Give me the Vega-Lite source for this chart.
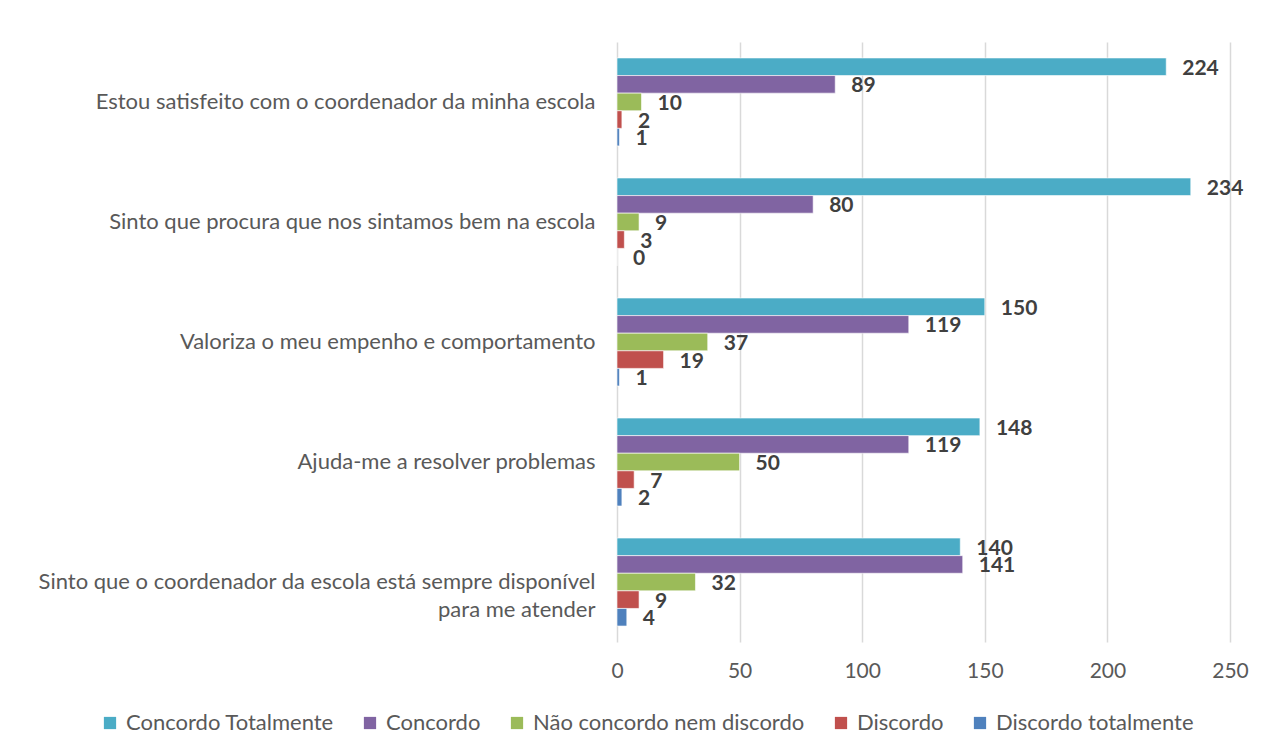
{
  "$schema": "https://vega.github.io/schema/vega-lite/v6.json",
  "autosize": {"type": "none"},
  "width": 613,
  "height": 600,
  "padding": {"left": 617, "top": 42, "right": 36, "bottom": 112},
  "background": "white",
  "config": {
    "font": "Lato",
    "view": {"stroke": null},
    "axis": {"labelFont": "Lato", "labelColor": "#595959", "labelFontSize": 22, "ticks": false, "domain": false}
  },
  "data": {"values": [
    {"cat": "Estou satisfeito com o coordenador da minha escola", "serie": "Concordo Totalmente", "v": 224},
    {"cat": "Estou satisfeito com o coordenador da minha escola", "serie": "Concordo", "v": 89},
    {"cat": "Estou satisfeito com o coordenador da minha escola", "serie": "Não concordo nem discordo", "v": 10},
    {"cat": "Estou satisfeito com o coordenador da minha escola", "serie": "Discordo", "v": 2},
    {"cat": "Estou satisfeito com o coordenador da minha escola", "serie": "Discordo totalmente", "v": 1},
    {"cat": "Sinto que procura que nos sintamos bem na escola", "serie": "Concordo Totalmente", "v": 234},
    {"cat": "Sinto que procura que nos sintamos bem na escola", "serie": "Concordo", "v": 80},
    {"cat": "Sinto que procura que nos sintamos bem na escola", "serie": "Não concordo nem discordo", "v": 9},
    {"cat": "Sinto que procura que nos sintamos bem na escola", "serie": "Discordo", "v": 3},
    {"cat": "Sinto que procura que nos sintamos bem na escola", "serie": "Discordo totalmente", "v": 0},
    {"cat": "Valoriza o meu empenho e comportamento", "serie": "Concordo Totalmente", "v": 150},
    {"cat": "Valoriza o meu empenho e comportamento", "serie": "Concordo", "v": 119},
    {"cat": "Valoriza o meu empenho e comportamento", "serie": "Não concordo nem discordo", "v": 37},
    {"cat": "Valoriza o meu empenho e comportamento", "serie": "Discordo", "v": 19},
    {"cat": "Valoriza o meu empenho e comportamento", "serie": "Discordo totalmente", "v": 1},
    {"cat": "Ajuda-me a resolver problemas", "serie": "Concordo Totalmente", "v": 148},
    {"cat": "Ajuda-me a resolver problemas", "serie": "Concordo", "v": 119},
    {"cat": "Ajuda-me a resolver problemas", "serie": "Não concordo nem discordo", "v": 50},
    {"cat": "Ajuda-me a resolver problemas", "serie": "Discordo", "v": 7},
    {"cat": "Ajuda-me a resolver problemas", "serie": "Discordo totalmente", "v": 2},
    {"cat": "Sinto que o coordenador da escola está sempre disponível|para me atender", "serie": "Concordo Totalmente", "v": 140},
    {"cat": "Sinto que o coordenador da escola está sempre disponível|para me atender", "serie": "Concordo", "v": 141},
    {"cat": "Sinto que o coordenador da escola está sempre disponível|para me atender", "serie": "Não concordo nem discordo", "v": 32},
    {"cat": "Sinto que o coordenador da escola está sempre disponível|para me atender", "serie": "Discordo", "v": 9},
    {"cat": "Sinto que o coordenador da escola está sempre disponível|para me atender", "serie": "Discordo totalmente", "v": 4}
  ]},
  "encoding": {
    "y": {
      "field": "cat", "type": "nominal", "title": null,
      "sort": ["Estou satisfeito com o coordenador da minha escola", "Sinto que procura que nos sintamos bem na escola", "Valoriza o meu empenho e comportamento", "Ajuda-me a resolver problemas", "Sinto que o coordenador da escola está sempre disponível|para me atender"],
      "scale": {"paddingInner": 0.267, "paddingOuter": 0.133},
      "axis": {"labelExpr": "split(datum.label, '|')", "labelPadding": 22, "labelLimit": 700, "grid": false, "labelLineHeight": 28}
    },
    "yOffset": {
      "field": "serie", "type": "nominal",
      "sort": ["Concordo Totalmente", "Concordo", "Não concordo nem discordo", "Discordo", "Discordo totalmente"],
      "scale": {"paddingInner": 0, "paddingOuter": 0}
    },
    "x": {
      "field": "v", "type": "quantitative", "title": null,
      "scale": {"domain": [0, 250], "nice": false},
      "axis": {"values": [0, 50, 100, 150, 200, 250], "grid": true, "gridColor": "#D9D9D9", "gridWidth": 1.5, "labelPadding": 18, "labelFontSize": 21, "labelFlush": false}
    }
  },
  "layer": [
    {
      "mark": {"type": "bar", "stroke": "white", "strokeWidth": 1, "strokeOpacity": 0.6},
      "encoding": {
        "color": {
          "field": "serie", "type": "nominal", "title": null,
          "sort": ["Concordo Totalmente", "Concordo", "Não concordo nem discordo", "Discordo", "Discordo totalmente"],
          "scale": {"domain": ["Concordo Totalmente", "Concordo", "Não concordo nem discordo", "Discordo", "Discordo totalmente"], "range": ["#4BACC6", "#8064A2", "#9BBB59", "#C0504D", "#4F81BD"]},
          "legend": {"orient": "none", "direction": "horizontal", "legendX": -518, "legendY": 670, "symbolType": "square", "symbolSize": 150, "symbolStrokeWidth": 0, "labelFont": "Lato", "labelFontSize": 22, "labelColor": "#595959", "columnPadding": 25, "labelOffset": 5, "labelLimit": 400}
        }
      }
    },
    {
      "mark": {"type": "text", "align": "left", "baseline": "middle", "dx": 16, "dy": 2, "font": "Lato", "fontSize": 21, "fontWeight": "bold", "color": "#404040"},
      "encoding": {"text": {"field": "v", "type": "quantitative"}}
    }
  ]
}
